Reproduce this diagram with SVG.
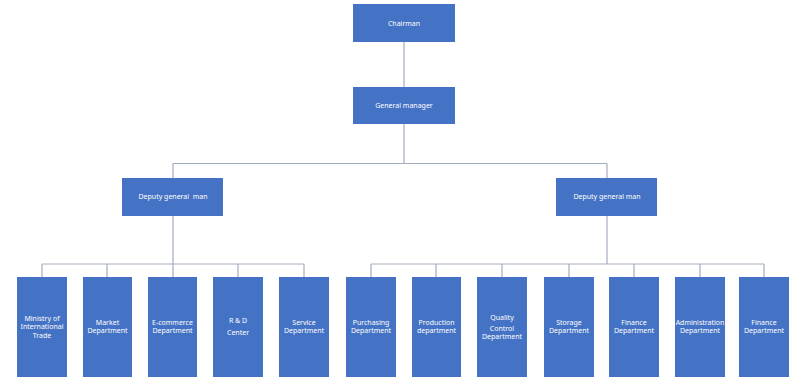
<svg xmlns="http://www.w3.org/2000/svg" width="800" height="386" viewBox="0 0 800 386">
<style>
.box{fill:#4472C4;}
.lbl{font-family:"Noto Sans","Open Sans",sans-serif;font-size:7px;fill:#ffffff;text-anchor:middle;}
.con{stroke:#A3ADBF;stroke-width:1.2;fill:none;}
</style>
<rect width="800" height="386" fill="#ffffff"/>
<g id="connectors">
<path class="con" d="M404 42V87M404 124V163.5M173 163.5H607M173 163.5V178M607 163.5V178"/>
<path class="con" d="M173 216V264M42 264H304M42 264V277M107 264V277M173 264V277M238 264V277M304 264V277"/>
<path class="con" d="M607 216V264M371 264H764M371 264V277M436 264V277M502 264V277M569 264V277M634 264V277M700 264V277M764 264V277"/>
</g>
<g id="chairman"><rect class="box" x="353" y="4" width="102" height="38"/><text class="lbl" x="404" y="25.5">Chairman</text></g>
<g id="general-manager"><rect class="box" x="353" y="87" width="102" height="37"/><text class="lbl" x="404" y="108">General manager</text></g>
<g id="deputy-left"><rect class="box" x="122" y="178" width="101" height="38"/><text class="lbl" x="173" y="199" xml:space="preserve">Deputy general  man</text></g>
<g id="deputy-right"><rect class="box" x="556" y="178" width="101" height="38"/><text class="lbl" x="607" y="199">Deputy general man</text></g>
<g id="ministry"><rect class="box" x="17" y="277" width="50" height="100"/><text class="lbl" x="42" y="320.5">Ministry of</text><text class="lbl" x="42" y="329">International</text><text class="lbl" x="42" y="337.5">Trade</text></g>
<g id="market"><rect class="box" x="83" y="277" width="49" height="100"/><text class="lbl" x="107.5" y="325">Market</text><text class="lbl" x="107.5" y="333">Department</text></g>
<g id="ecommerce"><rect class="box" x="148" y="277" width="49" height="100"/><text class="lbl" x="172.5" y="325">E-commerce</text><text class="lbl" x="172.5" y="333">Department</text></g>
<g id="rd"><rect class="box" x="213" y="277" width="50" height="100"/><text class="lbl" x="238" y="323">R &amp; D</text><text class="lbl" x="238" y="335">Center</text></g>
<g id="service"><rect class="box" x="279" y="277" width="50" height="100"/><text class="lbl" x="304" y="325">Service</text><text class="lbl" x="304" y="333">Department</text></g>
<g id="purchasing"><rect class="box" x="346" y="277" width="50" height="100"/><text class="lbl" x="371" y="325">Purchasing</text><text class="lbl" x="371" y="333">Department</text></g>
<g id="production"><rect class="box" x="412" y="277" width="49" height="100"/><text class="lbl" x="436.5" y="325">Production</text><text class="lbl" x="436.5" y="333">department</text></g>
<g id="quality"><rect class="box" x="477" y="277" width="50" height="100"/><text class="lbl" x="502" y="319.5">Quality</text><text class="lbl" x="502" y="330.5">Control</text><text class="lbl" x="502" y="338.5">Department</text></g>
<g id="storage"><rect class="box" x="544" y="277" width="50" height="100"/><text class="lbl" x="569" y="325">Storage</text><text class="lbl" x="569" y="333">Department</text></g>
<g id="finance1"><rect class="box" x="609" y="277" width="50" height="100"/><text class="lbl" x="634" y="325">Finance</text><text class="lbl" x="634" y="333">Department</text></g>
<g id="administration"><rect class="box" x="675" y="277" width="50" height="100"/><text class="lbl" x="700" y="325">Administration</text><text class="lbl" x="700" y="333">Department</text></g>
<g id="finance2"><rect class="box" x="739" y="277" width="50" height="100"/><text class="lbl" x="764" y="325">Finance</text><text class="lbl" x="764" y="333">Department</text></g>
</svg>
